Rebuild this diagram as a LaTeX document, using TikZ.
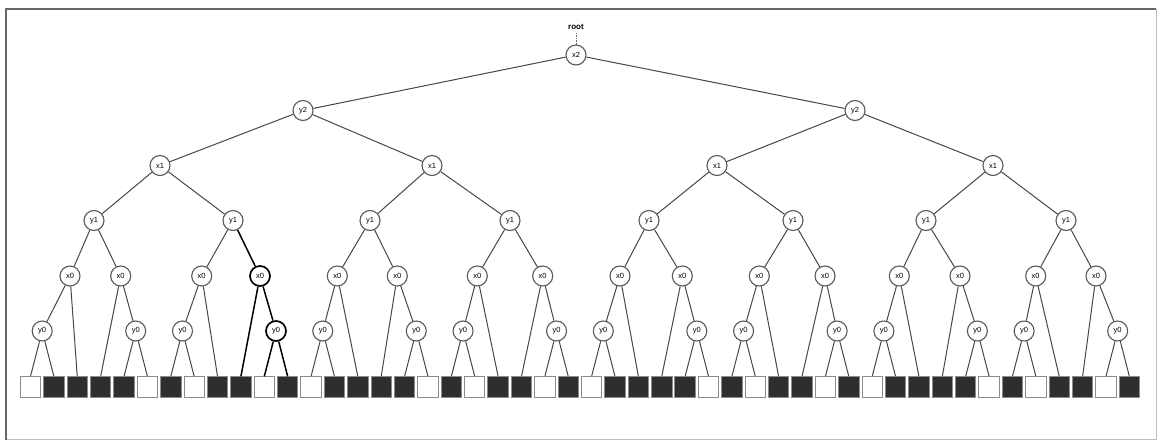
\documentclass[tikz,border=0pt]{standalone}
\usepackage{fontspec}
\setmainfont{Liberation Sans}
\begin{document}
\begin{tikzpicture}[x=1pt,y=-1pt,
  var/.style={circle,draw=black!65,fill=white,line width=1.1pt,minimum size=20pt,inner sep=0pt,font=\fontsize{7.5}{8}\selectfont},
  hotvar/.style={var,draw=black,line width=1.7pt},
  cell/.style={rectangle,draw=black!45,line width=0.9pt,minimum size=20.4pt,inner sep=0pt},
  darkcell/.style={cell,fill=black!82},
  lightcell/.style={cell,fill=white},
  link/.style={draw=black!72,line width=1pt},
  hotlink/.style={draw=black,line width=1.5pt}]
\useasboundingbox (0,0) rectangle (1160,443);
% frame: top and left edges heavier than right and bottom
\draw[black!25,line width=1pt] (156,440) -- (1156,440) -- (1156,9);
\draw[black!25,line width=1pt] (6,440) -- (156,440);
\draw[black!60,line width=1.3pt] (6,440) -- (6,9) -- (1156,9);

% leaf cells: pattern W B B B B W B W B B W B per x1 subtree
\foreach \k in {1,...,48}{
  \pgfmathtruncatemacro\m{mod(\k-1,12)+1}
  \pgfmathtruncatemacro\w{(\m==1)||(\m==6)||(\m==8)||(\m==11)}
  \pgfmathsetmacro\lx{30.5+(\k-1)*23.38}
  \ifnum\w=1 \def\cellfill{lightcell}\else\def\cellfill{darkcell}\fi
  \node[\cellfill] (l\k) at (\lx,387) {};
}

% x0 level
\foreach \xx [count=\i] in {70,120.7,201.7,260,337.3,397.3,477.3,542.7,620,682.3,759.3,825,899.3,960,1035.7,1096}{
  \ifnum\i=4 \def\vs{hotvar}\else\def\vs{var}\fi
  \node[\vs] (a\i) at (\xx,276) {x0};
}
% y0 level, centred over its two leaves
\foreach \i in {1,...,16}{
  \pgfmathtruncatemacro\odd{mod(\i,2)}
  \ifnum\odd=1 \def\off{0.5}\else\def\off{1.5}\fi
  \pgfmathsetmacro\yx{30.5+(3*(\i-1)+\off)*23.38}
  \ifnum\i=4 \def\vs{hotvar}\else\def\vs{var}\fi
  \node[\vs] (b\i) at (\yx,331) {y0};
}
% y1 level
\foreach \xx [count=\i] in {94,233,370,510,649,793,926,1066}
  \node[var] (c\i) at (\xx,220.5) {y1};
% x1 level
\foreach \xx [count=\i] in {160,432,717,993}
  \node[var] (d\i) at (\xx,165.5) {x1};
% y2 level
\foreach \xx [count=\i] in {303,855}
  \node[var] (e\i) at (\xx,110.5) {y2};
% top
\node[var] (r) at (576,55) {x2};
\node[font=\bfseries\fontsize{8}{9}\selectfont] (rt) at (576,27) {root};
\draw[black!60,densely dotted,line width=0.6pt] (rt) -- (r);

% edges below x0
\foreach \i in {1,...,16}{
  \pgfmathtruncatemacro\odd{mod(\i,2)}
  \pgfmathtruncatemacro\base{3*(\i-1)}
  \ifnum\odd=1
    \pgfmathtruncatemacro\pa{\base+1}\pgfmathtruncatemacro\pb{\base+2}\pgfmathtruncatemacro\pd{\base+3}
  \else
    \pgfmathtruncatemacro\pd{\base+1}\pgfmathtruncatemacro\pa{\base+2}\pgfmathtruncatemacro\pb{\base+3}
  \fi
  \ifnum\i=4 \def\lk{hotlink}\else\def\lk{link}\fi
  \draw[\lk] (a\i) -- (b\i);
  \draw[\lk] (a\i) -- (l\pd.north);
  \draw[\lk] (b\i) -- (l\pa.north);
  \draw[\lk] (b\i) -- (l\pb.north);
}
% y1 -> x0
\foreach \j in {1,...,8}{
  \pgfmathtruncatemacro\ca{2*\j-1}\pgfmathtruncatemacro\cb{2*\j}
  \draw[link] (c\j) -- (a\ca);
  \ifnum\j=2 \def\lk{hotlink}\else\def\lk{link}\fi
  \draw[\lk] (c\j) -- (a\cb);
}
% x1 -> y1
\foreach \j in {1,...,4}{
  \pgfmathtruncatemacro\ca{2*\j-1}\pgfmathtruncatemacro\cb{2*\j}
  \draw[link] (d\j) -- (c\ca);
  \draw[link] (d\j) -- (c\cb);
}
% y2 -> x1
\draw[link] (e1) -- (d1);
\draw[link] (e1) -- (d2);
\draw[link] (e2) -- (d3);
\draw[link] (e2) -- (d4);
% x2 -> y2
\draw[link] (r) -- (e1);
\draw[link] (r) -- (e2);
\end{tikzpicture}
\end{document}
